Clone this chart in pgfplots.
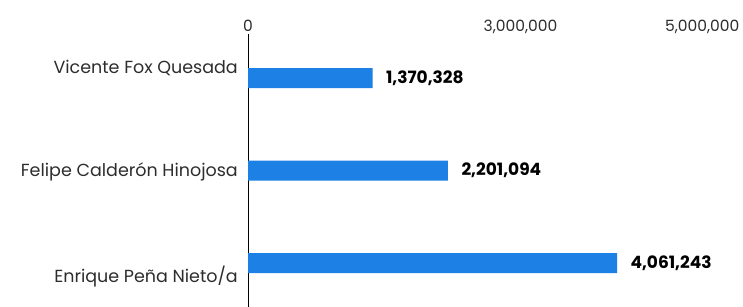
\documentclass[border=0pt]{standalone}
\usepackage{fontspec}
\setmainfont{Poppins}
\usepackage{pgfplots}
\usepackage{pgfplotstable}
\pgfplotsset{compat=1.18}
\definecolor{barblue}{RGB}{28,128,228}
\definecolor{txtgray}{RGB}{45,45,45}
\pgfplotstableread{
i v lab
0 1370328 1,370,328
1 2201094 2,201,094
2 4061243 4,061,243
}\datatable
\begin{document}
\begin{tikzpicture}
\useasboundingbox (0,0) rectangle (743pt,307pt);
\begin{axis}[
  at={(248pt,0pt)}, anchor=south west,
  scale only axis, width=495pt, height=273pt,
  xmin=0, xmax=5448000,
  ymin=-0.476, ymax=2.475, y dir=reverse,
  xbar, bar width=20pt,
  axis x line*=top, axis y line*=left,
  axis line style={-},
  x axis line style={draw=none},
  y axis line style={black, line width=1pt},
  xtick={0,3000000,5000000},
  major tick length=0pt,
  scaled x ticks=false,
  xticklabel style={font=\fontsize{15.5}{18}\selectfont, text=txtgray, anchor=base, yshift=2pt, inner sep=0pt, /pgf/number format/.cd, fixed, 1000 sep={,}, assume math mode=true},
  ytick={0,1,2},
  yticklabels={\raisebox{5pt}{Vicente Fox Quesada},\raisebox{-6pt}{Felipe Calderón Hinojosa},\raisebox{-19pt}{Enrique Peña Nieto/a}},
  yticklabel style={font=\fontsize{17.5}{20}\selectfont, text=txtgray, anchor=base east, inner sep=0pt, xshift=-10pt},
  point meta=explicit symbolic,
  nodes near coords,
  nodes near coords style={font=\fontsize{17}{20}\selectfont\bfseries, text=black, anchor=west, xshift=10pt},
  clip=false,
]
\addplot[fill=barblue, draw=none] table[x=v, y=i, meta=lab] {\datatable};
\end{axis}
\end{tikzpicture}
\end{document}
